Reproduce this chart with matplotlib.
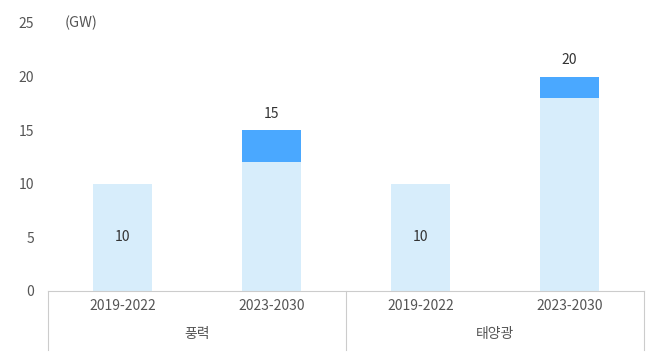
import matplotlib.pyplot as plt
import numpy as np

plt.rcParams['font.family'] = ['Noto Sans CJK KR', 'DejaVu Sans']

periods = ['2019-2022', '2023-2030', '2019-2022', '2023-2030']
groups = ['풍력', '태양광']
base = [10, 12, 10, 18]
extra = [0, 3, 0, 2]
totals = [10, 15, 10, 20]

light = '#d7edfb'
dark = '#4aa8ff'
txt = '#555555'
line = '#cccccc'

W, H = 652, 358
fig = plt.figure(figsize=(W / 100, H / 100), dpi=100)
x0, x1, y0, y1 = 48, 644, 291, 23
ax = fig.add_axes([x0 / W, 1 - y0 / H, (x1 - x0) / W, (y0 - y1) / H])

x = np.arange(len(periods))
ax.bar(x, base, width=0.4, color=light)
ax.bar(x, extra, width=0.4, bottom=base, color=dark)

for i in range(len(x)):
    if extra[i] == 0:
        ax.text(x[i], totals[i] / 2, str(totals[i]), ha='center', va='center', fontsize=10, color='#333333')
    else:
        ax.text(x[i], totals[i] + 0.9, str(totals[i]), ha='center', va='bottom', fontsize=10, color='#333333')

ax.set_xlim(-0.5, 3.5)
ax.set_ylim(0, 25)
ax.set_yticks([0, 5, 10, 15, 20, 25])
ax.tick_params(axis='y', length=0, colors=txt, labelsize=10, pad=10)
ax.set_xticks(x)
ax.set_xticklabels(periods)
ax.tick_params(axis='x', length=0, colors=txt, labelsize=10, pad=6)
for s in ['top', 'right', 'left']:
    ax.spines[s].set_visible(False)
ax.spines['bottom'].set_color(line)

ax.text(0.028, 1.0, '(GW)', transform=ax.transAxes, ha='left', va='center', fontsize=10.5, color=txt)

# group separators and group labels
for xs in [-0.5, 1.5, 3.5]:
    ax.plot([xs, xs], [0, -0.22], transform=ax.get_xaxis_transform(), color=line, lw=0.8, clip_on=False)
for j, g in enumerate(groups):
    ax.text(2 * j + 0.5, -0.16, g, transform=ax.get_xaxis_transform(), ha='center', va='center', fontsize=10, color=txt)

plt.savefig('out.png', dpi=100)
